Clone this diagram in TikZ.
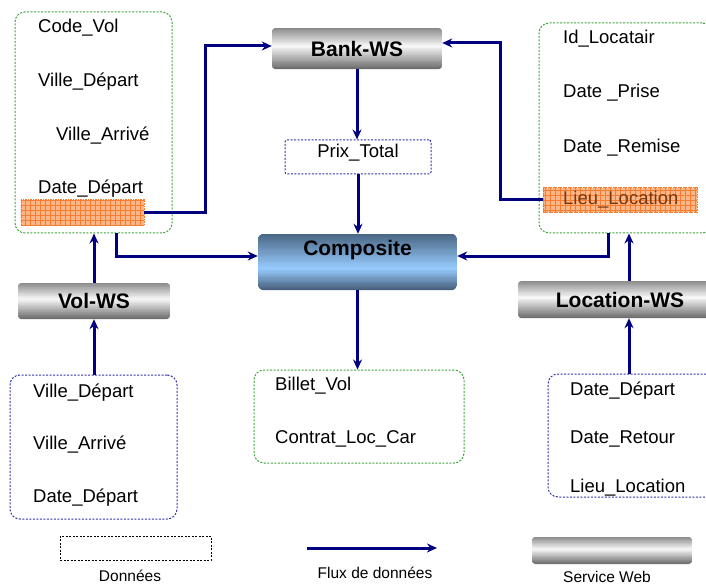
\documentclass[tikz,border=0pt]{standalone}
\usepackage{fontspec}
\setmainfont{Liberation Sans}
\usetikzlibrary{arrows.meta,calc}
\definecolor{flowc}{RGB}{0,0,128}
\definecolor{greenb}{RGB}{60,165,60}
\definecolor{blueb}{RGB}{50,50,170}
\definecolor{orfill}{RGB}{250,182,135}
\definecolor{orline}{RGB}{245,125,50}
\definecolor{lieutxt}{RGB}{120,55,15}
\definecolor{wstop}{RGB}{135,135,135}
\definecolor{wsmid}{RGB}{248,248,248}
\definecolor{wsbot}{RGB}{105,105,105}
\definecolor{comptop}{RGB}{72,100,130}
\definecolor{compmid}{RGB}{152,204,255}
\definecolor{compbot}{RGB}{68,92,120}
\tikzset{
  flow/.style={draw=flowc, line width=3pt, -{Stealth[length=10pt,width=9pt]}},
  greenbox/.style={draw=greenb, line width=1pt, dash pattern=on 2pt off 1.5pt, rounded corners=10pt, inner sep=0pt},
  bluebox/.style={draw=blueb, line width=1pt, dash pattern=on 2pt off 1.5pt, rounded corners=10pt, inner sep=0pt},
  wsbox/.style={inner sep=0pt},
  wslabel/.style={inner sep=0pt, font=\fontsize{21}{24}\selectfont\bfseries},
  orbox/.style={fill=orfill, inner sep=0pt},
  txt/.style={anchor=base west, inner sep=0pt, font=\fontsize{18.5}{21}\selectfont},
  legtxt/.style={anchor=base, inner sep=0pt, font=\fontsize{15.5}{18}\selectfont},
}
% vertical three-stop gradient drawn as stripes: node, radius, top, mid, bottom, mid position
\newcommand{\vshade}[6]{%
\begin{scope}
\clip[rounded corners=#2] (#1.north west) rectangle (#1.south east);
\foreach \k in {0,...,47}{%
 \pgfmathsetmacro{\ta}{\k/48}%
 \pgfmathsetmacro{\tb}{(\k+1.4)/48}%
 \pgfmathsetmacro{\tc}{(\k+0.5)/48}%
 \pgfmathsetmacro{\pp}{\tc<#6 ? 100*\tc/#6 : 100*(\tc-#6)/(1-#6)}%
 \pgfmathsetmacro{\sidex}{\tc<#6 ? 0 : 1}%
 \ifdim\sidex pt<0.5pt
   \colorlet{stripec}{#4!\pp!#3}%
 \else
   \colorlet{stripec}{#5!\pp!#4}%
 \fi
 \fill[stripec] ($(#1.north west)!\ta!(#1.south west)$) rectangle ($(#1.north east)!\tb!(#1.south east)$);
}
\end{scope}}
\newcommand{\orgrid}[1]{%
\fill[orfill] (#1.south west) rectangle (#1.north east);
\begin{scope}
\clip (#1.south west) rectangle (#1.north east);
\draw[orline, line width=0.5pt, step=5pt] ($(#1.south west)+(-1,1)$) grid ($(#1.north east)+(1,-1)$);
\end{scope}
\draw[orline, line width=0.6pt, dash pattern=on 1.5pt off 1pt] (#1.south west) rectangle (#1.north east);}
\begin{document}
\begin{tikzpicture}[x=1pt,y=-1pt]
\useasboundingbox (0,0) rectangle (706,585);
\clip (0,0) rectangle (706,585);
\fill[white] (0,0) rectangle (706,585);

% containers
\node[greenbox, minimum width=157pt, minimum height=221pt] (vbox) at (93.5,122.5) {};
\node[greenbox, minimum width=173pt, minimum height=210pt] (lbox) at (625.5,128) {};
\node[bluebox, minimum width=167pt, minimum height=144pt] (vin) at (93.5,447) {};
\node[bluebox, minimum width=168pt, minimum height=123pt] (rin) at (632,435.5) {};
\node[greenbox, minimum width=210pt, minimum height=93pt] (res) at (359,416.5) {};
\node[draw=blueb, line width=1pt, dash pattern=on 2pt off 1.5pt, rounded corners=2pt, inner sep=0pt,
      minimum width=146pt, minimum height=34pt] (prix) at (358,157) {};

% orange highlighted fields
\node[inner sep=0pt, minimum width=123pt, minimum height=25pt] (orangeL) at (82.5,212.5) {};
\orgrid{orangeL}
\node[inner sep=0pt, minimum width=154pt, minimum height=24pt] (orangeR) at (620,200) {};
\orgrid{orangeR}

% web services
\node[wsbox, minimum width=170pt, minimum height=41pt] (bank) at (357,48.5) {};
\vshade{bank}{4pt}{wstop}{wsmid}{wsbot}{0.45}
\node[wslabel] (banklabel) at (bank) {Bank-WS};
\node[wsbox, minimum width=152pt, minimum height=36pt] (volws) at (94,301) {};
\vshade{volws}{4pt}{wstop}{wsmid}{wsbot}{0.45}
\node[wslabel] (vollabel) at (volws) {Vol-WS};
\node[wsbox, minimum width=204pt, minimum height=37pt] (locws) at (620,299.5) {};
\vshade{locws}{4pt}{wstop}{wsmid}{wsbot}{0.45}
\node[wslabel] (loclabel) at (locws) {Location-WS};
\node[inner sep=0pt, minimum width=199pt, minimum height=56pt] (comp) at (357.5,262) {};
\vshade{comp}{6pt}{comptop}{compmid}{compbot}{0.62}
\node[anchor=base, inner sep=0pt, font=\fontsize{21}{24}\selectfont\bfseries] (complabel) at (357.5,255) {Composite};

% texts
\node[txt] (t1) at (38,33) {Code\_Vol};
\node[txt] (t2) at (38,87) {Ville\_Départ};
\node[txt] (t3) at (56,141) {Ville\_Arrivé};
\node[txt] (t4) at (38,194) {Date\_Départ};

\node[txt] (r1) at (563,44) {Id\_Locatair};
\node[txt] (r2) at (563,98) {Date \_Prise};
\node[txt] (r3) at (563,153) {Date \_Remise};
\node[txt, text=lieutxt] (r4) at (563,205) {Lieu\_Location};

\node[anchor=base, inner sep=0pt, font=\fontsize{18.5}{21}\selectfont] (ptxt) at (358,158) {Prix\_Total};

\node[txt] (b1) at (275,390) {Billet\_Vol};
\node[txt] (b2) at (275,443) {Contrat\_Loc\_Car};

\node[txt] (v1) at (33,397) {Ville\_Départ};
\node[txt] (v2) at (33,449) {Ville\_Arrivé};
\node[txt] (v3) at (33,502) {Date\_Départ};

\node[txt] (w1) at (570,395) {Date\_Départ};
\node[txt] (w2) at (570,443) {Date\_Retour};
\node[txt] (w3) at (570,492) {Lieu\_Location};

% connectors
\coordinate (j1) at (116,256);
\coordinate (j2) at (608,256);
\coordinate (j3) at (205,46);
\coordinate (j4) at (500,43);
\coordinate (ax) at (629,300);

\draw[flow] (orangeL.east) -| (j3) -- (j3 -| bank.west);
\draw[flow] (orangeR.west) -| (j4) -- (j4 -| bank.east);
\draw[flow] (bank.south) -- (bank.south |- prix.north);
\draw[flow] (prix.south) -- (prix.south |- comp.north);
\draw[flow] (vbox.south -| j1) -- (j1) -- (j1 -| comp.west);
\draw[flow] (lbox.south -| j2) -- (j2) -- (j2 -| comp.east);
\draw[flow] (comp.south) -- (comp.south |- res.north);
\draw[flow] (volws.north) -- (volws.north |- vbox.south);
\draw[flow] (vin.north -| volws.south) -- (volws.south);
\draw[flow] (locws.north -| ax) -- (lbox.south -| ax);
\draw[flow] (rin.north -| ax) -- (locws.south -| ax);

% legend
\node[draw=black, line width=0.8pt, dash pattern=on 2pt off 1.5pt, inner sep=0pt,
      minimum width=151pt, minimum height=24pt] (legdata) at (135.5,548) {};
\node[legtxt] (legdatatxt) at (130,581) {Données};
\coordinate (la) at (307,548);
\coordinate (lb) at (437,548);
\draw[flow] (la) -- (lb);
\node[legtxt] (legflowtxt) at (375,578) {Flux de données};
\node[wsbox, minimum width=160pt, minimum height=27pt] (legws) at (612,550.5) {};
\vshade{legws}{4pt}{wstop}{wsmid}{wsbot}{0.45}
\node[legtxt] (legwstxt) at (607,582) {Service Web};
\end{tikzpicture}
\end{document}
